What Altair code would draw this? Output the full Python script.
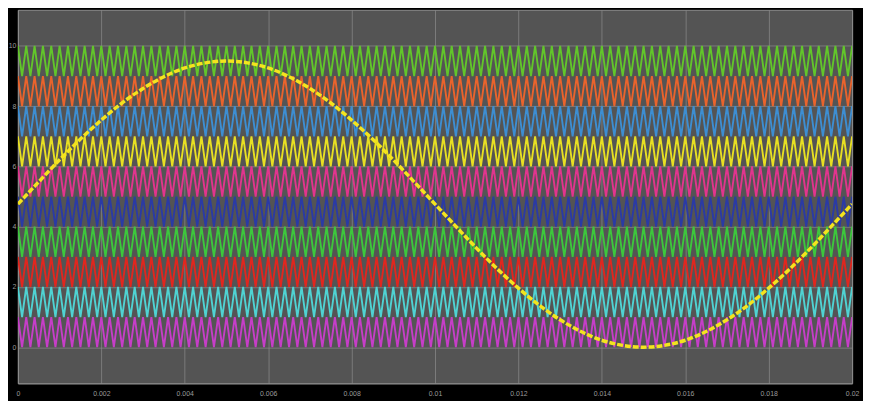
import altair as alt
import numpy as np
import pandas as pd

# ---- data ----
t_start = 0.0
t_end = 0.02
carrier_cycles = 100            # triangle periods across the window (5 kHz)
carrier_levels = [0, 1, 2, 3, 4, 5, 6, 7, 8, 9]   # lower edge of each carrier band
carrier_colors = ["#c63ec8", "#4fd3d3", "#e2261e", "#3cc83c", "#2a3aa6",
                  "#e2348e", "#e8e022", "#3d8ed2", "#ea632c", "#62c62a"]

sine_t = [i * 0.0005 for i in range(41)]
sine_v = [4.75, 5.49, 6.22, 6.91, 7.54, 8.11, 8.59, 8.98, 9.27, 9.44,
          9.50, 9.44, 9.27, 8.98, 8.59, 8.11, 7.54, 6.91, 6.22, 5.49,
          4.75, 4.01, 3.28, 2.59, 1.96, 1.39, 0.91, 0.52, 0.23, 0.06,
          0.00, 0.06, 0.23, 0.52, 0.91, 1.39, 1.96, 2.59, 3.28, 4.01, 4.75]

x_ticks = [0, 0.002, 0.004, 0.006, 0.008, 0.01, 0.012, 0.014, 0.016, 0.018, 0.02]
y_ticks = [0, 2, 4, 6, 8, 10]

# ---- tables ----
vertex_t = np.linspace(t_start, t_end, 2 * carrier_cycles + 1)
vertex_shape = [1 if i % 2 == 0 else 0 for i in range(len(vertex_t))]
rows = []
for lvl in carrier_levels:
    for tt, s in zip(vertex_t, vertex_shape):
        rows.append({"t": tt, "v": lvl + s, "carrier": f"c{lvl}"})
carriers = pd.DataFrame(rows)
sine = pd.DataFrame({"t": sine_t, "v": sine_v})

xscale = alt.Scale(domain=[0, 0.02], nice=False, zero=False)
yscale = alt.Scale(domain=[-1.2, 11.2], nice=False, zero=False)

xaxis = alt.Axis(values=x_ticks, format="~g", title=None, ticks=False,
                 labelPadding=6, labelFontSize=7, labelColor="#9a9a9a",
                 grid=True, gridColor="#8c8c8c", gridWidth=1, gridOpacity=0.7,
                 domainColor="#8c8c8c", labelFlush=False)
yaxis = alt.Axis(values=y_ticks, title=None, ticks=False,
                 labelPadding=2, labelFontSize=7, labelColor="#9a9a9a",
                 grid=True, gridColor="#8c8c8c", gridWidth=1, gridOpacity=0.7,
                 domainColor="#8c8c8c")

carrier_layer = alt.Chart(carriers).mark_line(strokeWidth=1.9, clip=True).encode(
    x=alt.X("t:Q", scale=xscale, axis=xaxis),
    y=alt.Y("v:Q", scale=yscale, axis=yaxis),
    color=alt.Color("carrier:N",
                    scale=alt.Scale(domain=[f"c{l}" for l in carrier_levels],
                                    range=carrier_colors),
                    legend=None),
    detail="carrier:N",
)

sine_layer = alt.Chart(sine).mark_line(
    color="#f4e41e", strokeWidth=3.5, strokeDash=[6, 2], interpolate="monotone", clip=True
).encode(
    x=alt.X("t:Q", scale=xscale),
    y=alt.Y("v:Q", scale=yscale),
)

chart = alt.layer(carrier_layer, sine_layer).properties(
    width=842, height=377,
    background="#000000",
    autosize=alt.AutoSizeParams(type="none"),
    padding={"left": 10, "top": 0, "right": 11, "bottom": 16},
).configure_view(
    fill="#545454", stroke="#8c8c8c", strokeWidth=1,
)

chart.save("out.html", embed_options={"renderer": "svg", "actions": False})
